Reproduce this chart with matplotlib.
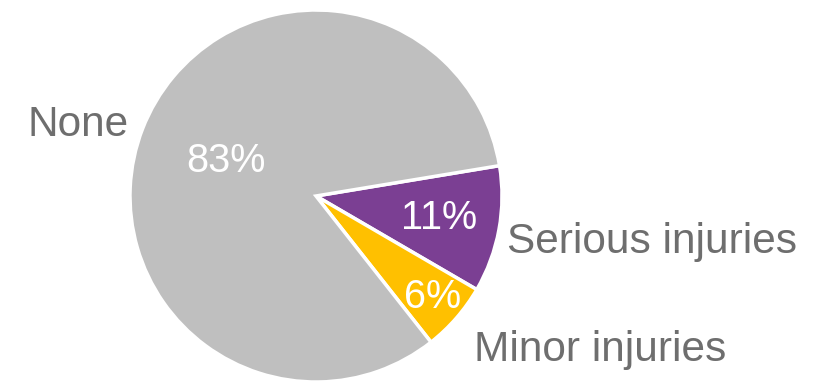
import numpy as np
import matplotlib.pyplot as plt

plt.rcParams['font.family'] = ['Liberation Sans', 'DejaVu Sans']

labels = ['Serious injuries', 'Minor injuries', 'None']
shares = [11, 6, 83]
colors = ['#7B3F93', '#FFC000', '#BFBFBF']
explode = [0.02, 0.02, 0]

# where each percentage sits, as a fraction of the radius
pct_dist = [0.67, 0.83, 0.52]
# category label positions (pixels)
label_pos = [(507, 142), (474, 34), (78, 259)]

fig = plt.figure(figsize=(8.19, 3.84), dpi=100)
ax = fig.add_axes([0, 0, 1, 1])
ax.set_xlim(0, 819)
ax.set_ylim(0, 384)
ax.set_aspect('equal')
ax.axis('off')

cx, cy, r = 316, 188, 186
wedges, _ = ax.pie(shares, colors=colors, explode=explode, startangle=9.4,
                   counterclock=False, center=(cx, cy), radius=r,
                   wedgeprops=dict(edgecolor='white', linewidth=2.5))
ax.set_xlim(0, 819)
ax.set_ylim(0, 384)

for w, s, d in zip(wedges, shares, pct_dist):
    mid = np.deg2rad((w.theta1 + w.theta2) / 2)
    x = cx + d * r * np.cos(mid)
    y = cy + d * r * np.sin(mid)
    ax.text(x, y, f'{s}%', color='white', fontsize=28.5, ha='center', va='center')

for (x, y), lab in zip(label_pos, labels):
    ha = 'center' if lab == 'None' else 'left'
    ax.text(x, y, lab, color='#6E6E6E', fontsize=30.5, ha=ha, va='center')

fig.savefig('out.png', dpi=100)
